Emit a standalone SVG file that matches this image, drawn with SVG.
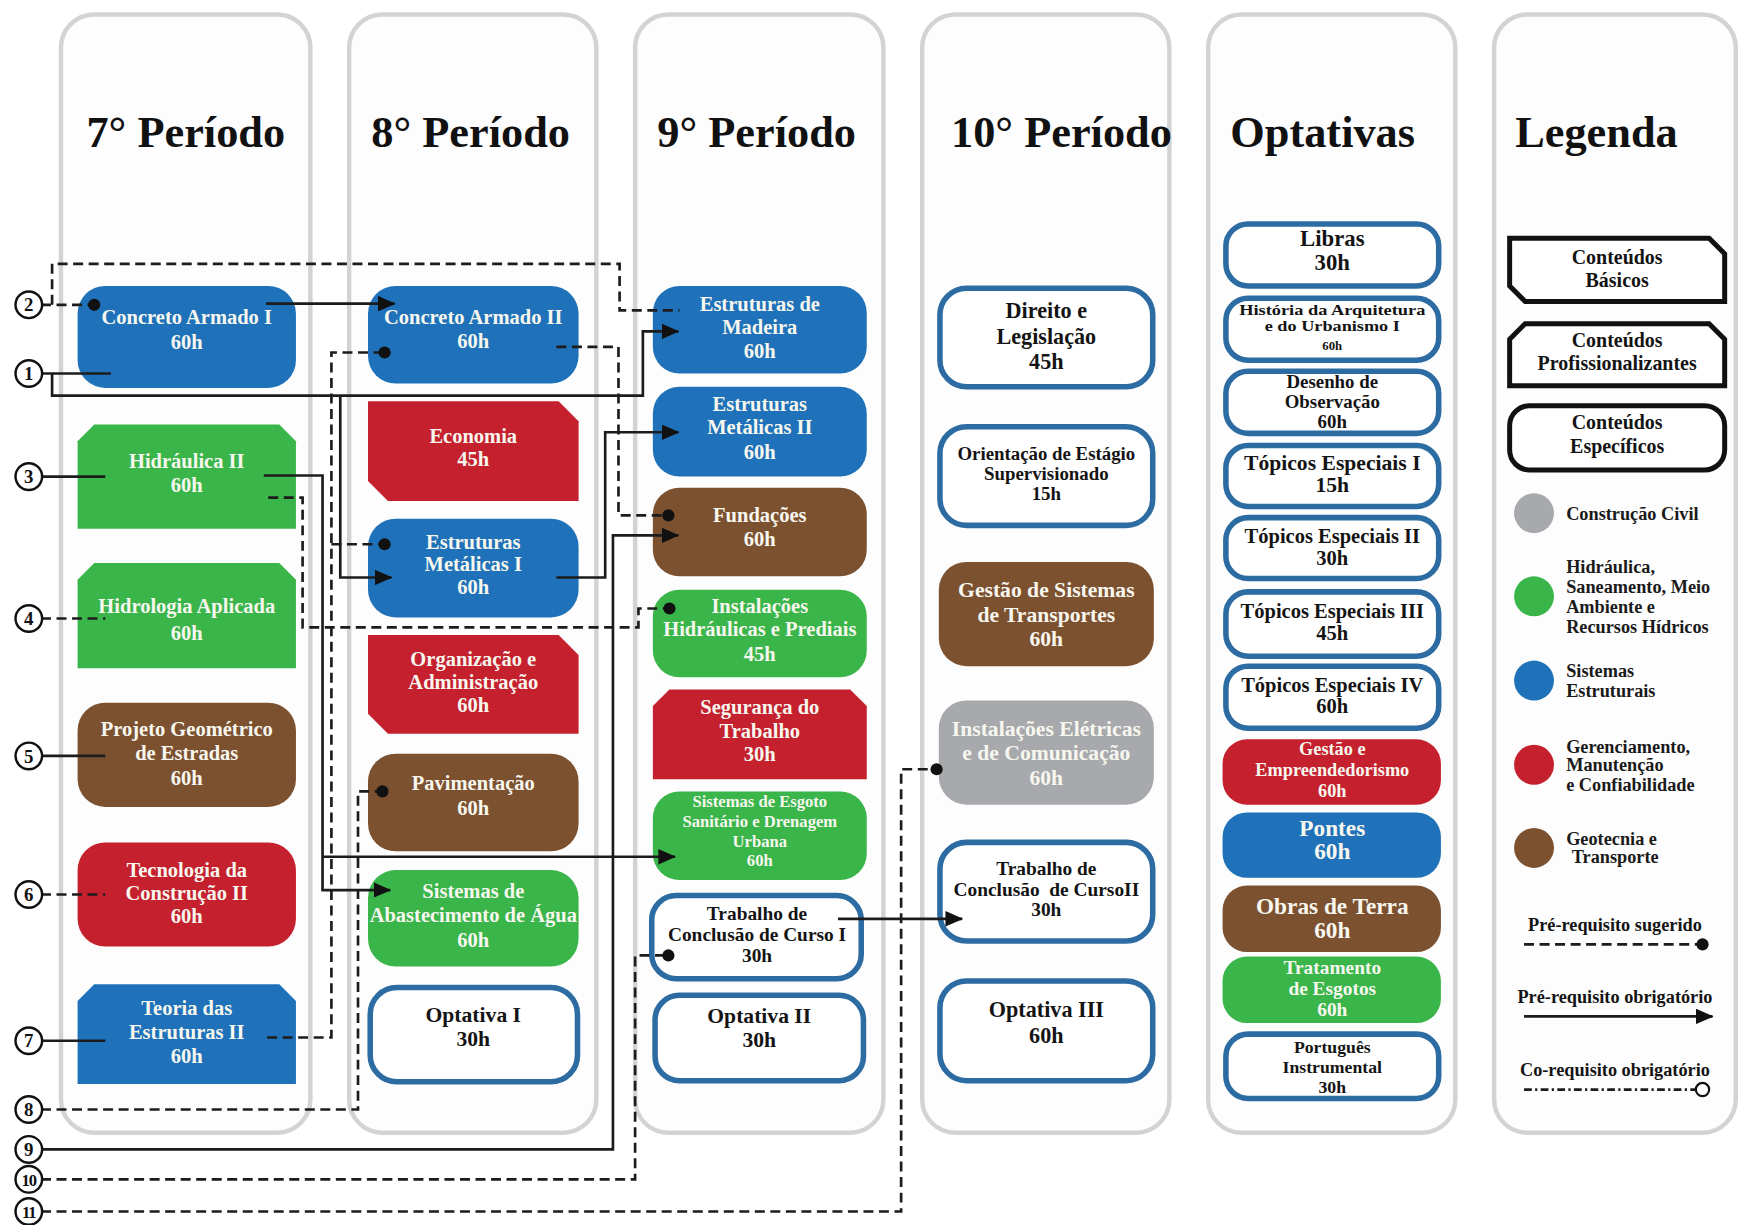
<svg xmlns="http://www.w3.org/2000/svg" width="1738" height="1225" viewBox="0 0 1738 1225">
<defs>
<style>
.col{fill:#fdfdfd;stroke:#d3d3d3;stroke-width:4}
.title{font-family:"Liberation Serif","Times New Roman",serif;font-weight:bold;font-size:40px;fill:#111}
.blue{fill:#1f72b9}
.green{fill:#3ab54a}
.brown{fill:#7c5130}
.red{fill:#c5202e}
.gray{fill:#a7a9ac}
.white{fill:#fff;stroke:#2d6ca2;stroke-width:5}
.t{font-family:"Liberation Serif","Times New Roman",serif;font-weight:bold;font-size:18.5px;text-anchor:middle}
.w{fill:#f7f7ef}
.k{fill:#141414}
.ln{fill:none;stroke:#1c1c1c;stroke-width:2.4}
.d{stroke-dasharray:9 5}
.num{fill:#fff;stroke:#111;stroke-width:2.2}
.nt{font-family:"Liberation Serif","Times New Roman",serif;font-weight:bold;font-size:17px;text-anchor:middle;fill:#111}
.lg{fill:#fff;stroke:#111;stroke-width:4.5}
.lt{font-family:"Liberation Serif","Times New Roman",serif;font-weight:bold;font-size:16.5px;fill:#1a1a1a}
</style>
<marker id="arrow" viewBox="0 0 16 14" refX="15" refY="7" markerWidth="16" markerHeight="14" markerUnits="userSpaceOnUse" orient="auto">
<path d="M0,0 L16,7 L0,14 Z" fill="#111"/>
</marker>
<marker id="dot" viewBox="-6 -6 12 12" refX="0" refY="0" markerWidth="12" markerHeight="12" markerUnits="userSpaceOnUse">
<circle r="5.5" fill="#111"/>
</marker>
</defs>
<rect width="1738" height="1225" fill="#fff"/>
<g transform="scale(1.1084)">

<g id="columns">
<rect class="col" x="55" y="13" width="225" height="1009" rx="30"/>
<rect class="col" x="315" y="13" width="223" height="1009" rx="30"/>
<rect class="col" x="573" y="13" width="224" height="1009" rx="30"/>
<rect class="col" x="832" y="13" width="223" height="1009" rx="30"/>
<rect class="col" x="1090" y="13" width="223" height="1009" rx="30"/>
<rect class="col" x="1348" y="13" width="218" height="1009" rx="30"/>
<text class="title" x="78" y="133">7° Período</text>
<text class="title" x="335" y="133">8° Período</text>
<text class="title" x="593" y="133">9° Período</text>
<text class="title" x="858" y="133">10° Período</text>
<text class="title" x="1110" y="133">Optativas</text>
<text class="title" x="1367" y="133">Legenda</text>
</g>

<!-- 7º período -->
<g id="n-concreto-armado-1"><rect class="blue" x="70" y="258" width="197" height="92" rx="25"/><text class="t w" x="168.5" y="292">Concreto Armado I</text><text class="t w" x="168.5" y="315">60h</text></g>
<g id="n-hidraulica-2"><path class="green" d="M70,398 L85,383 L252,383 L267,398 L267,477 L70,477 Z"/><text class="t w" x="168.5" y="422">Hidráulica II</text><text class="t w" x="168.5" y="444">60h</text></g>
<g id="n-hidrologia"><path class="green" d="M70,523 L85,508 L252,508 L267,523 L267,603 L70,603 Z"/><text class="t w" x="168.5" y="553">Hidrologia Aplicada</text><text class="t w" x="168.5" y="577">60h</text></g>
<g id="n-projeto-geometrico"><rect class="brown" x="70" y="634" width="197" height="94" rx="25"/><text class="t w" x="168.5" y="664">Projeto Geométrico</text><text class="t w" x="168.5" y="686">de Estradas</text><text class="t w" x="168.5" y="708">60h</text></g>
<g id="n-tecnologia-construcao-2"><rect class="red" x="70" y="760" width="197" height="94" rx="25"/><text class="t w" x="168.5" y="791">Tecnologia da</text><text class="t w" x="168.5" y="812">Construção II</text><text class="t w" x="168.5" y="833">60h</text></g>
<g id="n-teoria-estruturas-2"><path class="blue" d="M70,903 L85,888 L252,888 L267,903 L267,978 L70,978 Z"/><text class="t w" x="168.5" y="916">Teoria das</text><text class="t w" x="168.5" y="937">Estruturas II</text><text class="t w" x="168.5" y="959">60h</text></g>

<!-- 8º período -->
<g id="n-concreto-armado-2"><rect class="blue" x="332" y="258" width="190" height="88" rx="25"/><text class="t w" x="427" y="292">Concreto Armado II</text><text class="t w" x="427" y="314">60h</text></g>
<g id="n-economia"><path class="red" d="M332,362 L504,362 L522,380 L522,452 L350,452 L332,434 Z"/><text class="t w" x="427" y="400">Economia</text><text class="t w" x="427" y="420">45h</text></g>
<g id="n-estruturas-metalicas-1"><rect class="blue" x="332" y="468" width="190" height="89" rx="25"/><text class="t w" x="427" y="495">Estruturas</text><text class="t w" x="427" y="515">Metálicas I</text><text class="t w" x="427" y="536">60h</text></g>
<g id="n-organizacao"><path class="red" d="M332,573 L504,573 L522,591 L522,662 L350,662 L332,644 Z"/><text class="t w" x="427" y="601">Organização e</text><text class="t w" x="427" y="622">Administração</text><text class="t w" x="427" y="642">60h</text></g>
<g id="n-pavimentacao"><rect class="brown" x="332" y="680" width="190" height="88" rx="25"/><text class="t w" x="427" y="713">Pavimentação</text><text class="t w" x="427" y="735">60h</text></g>
<g id="n-abastecimento-agua"><rect class="green" x="332" y="785" width="190" height="87" rx="25"/><text class="t w" x="427" y="810">Sistemas de</text><text class="t w" x="427" y="832">Abastecimento de Água</text><text class="t w" x="427" y="854">60h</text></g>
<g id="n-optativa-1"><rect class="white" x="334" y="891" width="187" height="85" rx="24"/><text class="t k" x="427" y="922" style="font-size:19.5px">Optativa I</text><text class="t k" x="427" y="944" style="font-size:19.5px">30h</text></g>

<!-- 9º período -->
<g id="n-estruturas-madeira"><rect class="blue" x="589" y="258" width="193" height="79" rx="24"/><text class="t w" x="685.5" y="281">Estruturas de</text><text class="t w" x="685.5" y="301">Madeira</text><text class="t w" x="685.5" y="323">60h</text></g>
<g id="n-estruturas-metalicas-2"><rect class="blue" x="589" y="349" width="193" height="81" rx="24"/><text class="t w" x="685.5" y="371">Estruturas</text><text class="t w" x="685.5" y="392">Metálicas II</text><text class="t w" x="685.5" y="414">60h</text></g>
<g id="n-fundacoes"><rect class="brown" x="589" y="440" width="193" height="80" rx="24"/><text class="t w" x="685.5" y="471">Fundações</text><text class="t w" x="685.5" y="493">60h</text></g>
<g id="n-instalacoes-hidraulicas"><rect class="green" x="589" y="532" width="193" height="79" rx="24"/><text class="t w" x="685.5" y="553">Instalações</text><text class="t w" x="685.5" y="574">Hidráulicas e Prediais</text><text class="t w" x="685.5" y="596">45h</text></g>
<g id="n-seguranca-trabalho"><path class="red" d="M589,637 L604,622 L767,622 L782,637 L782,703 L589,703 Z"/><text class="t w" x="685.5" y="644">Segurança do</text><text class="t w" x="685.5" y="666">Trabalho</text><text class="t w" x="685.5" y="687">30h</text></g>
<g id="n-esgoto-drenagem"><rect class="green" x="589" y="714" width="193" height="80" rx="24"/><text class="t w" x="685.5" y="728" style="font-size:15px">Sistemas de Esgoto</text><text class="t w" x="685.5" y="746" style="font-size:15px">Sanitário e Drenagem</text><text class="t w" x="685.5" y="764" style="font-size:15px">Urbana</text><text class="t w" x="685.5" y="781" style="font-size:15px">60h</text></g>
<g id="n-tcc-1"><rect class="white" x="588" y="808" width="189" height="75" rx="22"/><text class="t k" x="683" y="830" style="font-size:17.5px">Trabalho de</text><text class="t k" x="683" y="849" style="font-size:17.5px">Conclusão de Curso I</text><text class="t k" x="683" y="868" style="font-size:17.5px">30h</text></g>
<g id="n-optativa-2"><rect class="white" x="591" y="898" width="188" height="77" rx="22"/><text class="t k" x="685" y="923" style="font-size:19.5px">Optativa II</text><text class="t k" x="685" y="945" style="font-size:19.5px">30h</text></g>

<!-- 10º período -->
<g id="n-direito"><rect class="white" x="848" y="260" width="192" height="89" rx="24"/><text class="t k" x="944" y="287" style="font-size:20px">Direito e</text><text class="t k" x="944" y="310" style="font-size:20px">Legislação</text><text class="t k" x="944" y="333" style="font-size:20px">45h</text></g>
<g id="n-estagio"><rect class="white" x="848" y="385" width="192" height="89" rx="24"/><text class="t k" x="944" y="415" style="font-size:17px">Orientação de Estágio</text><text class="t k" x="944" y="433" style="font-size:17px">Supervisionado</text><text class="t k" x="944" y="451" style="font-size:17px">15h</text></g>
<g id="n-gestao-transportes"><rect class="brown" x="847" y="507" width="194" height="94" rx="25"/><text class="t w" x="944" y="539" style="font-size:19.5px">Gestão de Sistemas</text><text class="t w" x="944" y="561" style="font-size:19.5px">de Transportes</text><text class="t w" x="944" y="583" style="font-size:19.5px">60h</text></g>
<g id="n-instalacoes-eletricas"><rect class="gray" x="847" y="632" width="194" height="94" rx="25"/><text class="t w" x="944" y="664" style="font-size:19.5px">Instalações Elétricas</text><text class="t w" x="944" y="686" style="font-size:19.5px">e de Comunicação</text><text class="t w" x="944" y="708" style="font-size:19.5px">60h</text></g>
<g id="n-tcc-2"><rect class="white" x="848" y="760" width="192" height="89" rx="24"/><text class="t k" x="944" y="789" style="font-size:17.5px">Trabalho de</text><text class="t k" x="944" y="808" style="font-size:17.5px;white-space:pre">Conclusão  de CursoII</text><text class="t k" x="944" y="826" style="font-size:17.5px">30h</text></g>
<g id="n-optativa-3"><rect class="white" x="848" y="885" width="192" height="90" rx="24"/><text class="t k" x="944" y="918" style="font-size:20px">Optativa III</text><text class="t k" x="944" y="941" style="font-size:20px">60h</text></g>

<!-- Optativas -->
<g id="n-libras"><rect class="white" x="1106" y="202" width="192" height="56" rx="20"/><text class="t k" x="1202" y="222" style="font-size:20.5px">Libras</text><text class="t k" x="1202" y="244" style="font-size:20.5px">30h</text></g>
<g id="n-historia"><rect class="white" x="1106" y="269" width="192" height="56" rx="20"/><text class="t k" x="1202" y="284" style="font-size:12.5px" textLength="168" lengthAdjust="spacingAndGlyphs">História da Arquitetura</text><text class="t k" x="1202" y="299" style="font-size:12.5px" textLength="122" lengthAdjust="spacingAndGlyphs">e do Urbanismo I</text><text class="t k" x="1202" y="316" style="font-size:11.5px">60h</text></g>
<g id="n-desenho"><rect class="white" x="1106" y="335" width="192" height="56" rx="20"/><text class="t k" x="1202" y="350" style="font-size:17px">Desenho de</text><text class="t k" x="1202" y="368" style="font-size:17px">Observação</text><text class="t k" x="1202" y="386" style="font-size:17px">60h</text></g>
<g id="n-topicos-1"><rect class="white" x="1106" y="402" width="192" height="55" rx="20"/><text class="t k" x="1202" y="424" style="font-size:19.5px">Tópicos Especiais I</text><text class="t k" x="1202" y="444" style="font-size:19.5px">15h</text></g>
<g id="n-topicos-2"><rect class="white" x="1106" y="467" width="192" height="55" rx="20"/><text class="t k" x="1202" y="490" style="font-size:18.5px">Tópicos Especiais II</text><text class="t k" x="1202" y="510" style="font-size:18.5px">30h</text></g>
<g id="n-topicos-3"><rect class="white" x="1106" y="534" width="192" height="58" rx="20"/><text class="t k" x="1202" y="558" style="font-size:18.5px">Tópicos Especiais III</text><text class="t k" x="1202" y="577" style="font-size:18.5px">45h</text></g>
<g id="n-topicos-4"><rect class="white" x="1106" y="601" width="192" height="56" rx="20"/><text class="t k" x="1202" y="624" style="font-size:18.5px">Tópicos Especiais IV</text><text class="t k" x="1202" y="643" style="font-size:18.5px">60h</text></g>
<g id="n-gestao-empreendedorismo"><rect class="red" x="1103" y="667" width="197" height="59" rx="22"/><text class="t w" x="1202" y="681" style="font-size:16.5px">Gestão e</text><text class="t w" x="1202" y="700" style="font-size:16.5px">Empreendedorismo</text><text class="t w" x="1202" y="719" style="font-size:16.5px">60h</text></g>
<g id="n-pontes"><rect class="blue" x="1103" y="733" width="197" height="59" rx="22"/><text class="t w" x="1202" y="754" style="font-size:21px">Pontes</text><text class="t w" x="1202" y="775" style="font-size:21px">60h</text></g>
<g id="n-obras-terra"><rect class="brown" x="1103" y="799" width="197" height="60" rx="22"/><text class="t w" x="1202" y="825" style="font-size:21px">Obras de Terra</text><text class="t w" x="1202" y="846" style="font-size:21px">60h</text></g>
<g id="n-tratamento-esgotos"><rect class="green" x="1103" y="863" width="197" height="60" rx="22"/><text class="t w" x="1202" y="879" style="font-size:17.5px">Tratamento</text><text class="t w" x="1202" y="898" style="font-size:17.5px">de Esgotos</text><text class="t w" x="1202" y="917" style="font-size:17.5px">60h</text></g>
<g id="n-portugues"><rect class="white" x="1106" y="933" width="192" height="58" rx="20"/><text class="t k" x="1202" y="950" style="font-size:16px">Português</text><text class="t k" x="1202" y="968" style="font-size:16px">Instrumental</text><text class="t k" x="1202" y="986" style="font-size:16px">30h</text></g>

<!-- Connectors -->
<g id="connectors">
<path class="ln" d="M37,337 H100"/>
<path class="ln" d="M47,337 V357 H580 V299 H612" marker-end="url(#arrow)"/>
<path class="ln" d="M307,357 V521 H353" marker-end="url(#arrow)"/>
<path class="ln" d="M240,274 H356" marker-end="url(#arrow)"/>
<path class="ln d" d="M37,275 H85" marker-end="url(#dot)"/>
<path class="ln d" d="M47,275 V238 H559 V280 H613"/>
<path class="ln d" d="M502,313 H558 V465 H603" marker-end="url(#dot)"/>
<path class="ln" d="M37,430 H95"/>
<path class="ln" d="M238,429 H291 V803 H352" marker-end="url(#arrow)"/>
<path class="ln" d="M291,773 H609" marker-end="url(#arrow)"/>
<path class="ln d" d="M242,449 H273 V566 H576 V549 H604" marker-end="url(#dot)"/>
<path class="ln d" d="M37,558 H95"/>
<path class="ln" d="M37,682 H95"/>
<path class="ln d" d="M37,807 H95"/>
<path class="ln" d="M37,939 H95"/>
<path class="ln d" d="M241,936 H299 V318 H347" marker-end="url(#dot)"/>
<path class="ln d" d="M299,491 H347" marker-end="url(#dot)"/>
<path class="ln d" d="M37,1001 H323 V714 H345" marker-end="url(#dot)"/>
<path class="ln" d="M502,521 H546 V390 H612" marker-end="url(#arrow)"/>
<path class="ln" d="M37,1037 H553 V483 H612" marker-end="url(#arrow)"/>
<path class="ln d" d="M37,1064 H573 V862 H603" marker-end="url(#dot)"/>
<path class="ln d" d="M37,1093 H813 V694 H845" marker-end="url(#dot)"/>
<path class="ln" d="M756,829 H868" marker-end="url(#arrow)"/>
</g>

<!-- Numbered references -->
<g id="refs">
<g id="ref-1"><circle class="num" cx="26" cy="337" r="12"/><text class="nt" x="26" y="343">1</text></g>
<g id="ref-2"><circle class="num" cx="26" cy="275" r="12"/><text class="nt" x="26" y="281">2</text></g>
<g id="ref-3"><circle class="num" cx="26" cy="430" r="12"/><text class="nt" x="26" y="436">3</text></g>
<g id="ref-4"><circle class="num" cx="26" cy="558" r="12"/><text class="nt" x="26" y="564">4</text></g>
<g id="ref-5"><circle class="num" cx="26" cy="682" r="12"/><text class="nt" x="26" y="688">5</text></g>
<g id="ref-6"><circle class="num" cx="26" cy="807" r="12"/><text class="nt" x="26" y="813">6</text></g>
<g id="ref-7"><circle class="num" cx="26" cy="939" r="12"/><text class="nt" x="26" y="945">7</text></g>
<g id="ref-8"><circle class="num" cx="26" cy="1001" r="12"/><text class="nt" x="26" y="1007">8</text></g>
<g id="ref-9"><circle class="num" cx="26" cy="1037" r="12"/><text class="nt" x="26" y="1043">9</text></g>
<g id="ref-10"><circle class="num" cx="26" cy="1064" r="12"/><text class="nt" x="26" y="1070" style="font-size:15px;letter-spacing:-1px">10</text></g>
<g id="ref-11"><circle class="num" cx="26" cy="1093" r="12"/><text class="nt" x="26" y="1099" style="font-size:15px;letter-spacing:-1px">11</text></g>
</g>

<!-- Legend -->
<g id="legend">
<g id="leg-basicos"><path class="lg" d="M1362,215 L1542,215 L1556,229 L1556,272 L1376,272 L1362,258 Z"/><text class="t k" x="1459" y="238" style="font-size:18px">Conteúdos</text><text class="t k" x="1459" y="259" style="font-size:18px">Básicos</text></g>
<g id="leg-profissionalizantes"><path class="lg" d="M1362,306 L1376,292 L1542,292 L1556,306 L1556,348 L1362,348 Z"/><text class="t k" x="1459" y="313" style="font-size:18px">Conteúdos</text><text class="t k" x="1459" y="334" style="font-size:18px">Profissionalizantes</text></g>
<g id="leg-especificos"><rect class="lg" x="1362" y="366" width="194" height="58" rx="18"/><text class="t k" x="1459" y="387" style="font-size:18px">Conteúdos</text><text class="t k" x="1459" y="409" style="font-size:18px">Específicos</text></g>
<g id="leg-construcao"><circle class="gray" cx="1384" cy="463" r="18"/><text class="lt" x="1413" y="469">Construção Civil</text></g>
<g id="leg-hidraulica"><circle class="green" cx="1384" cy="538" r="18"/><text class="lt" x="1413" y="517">Hidráulica,</text><text class="lt" x="1413" y="535">Saneamento, Meio</text><text class="lt" x="1413" y="553">Ambiente e</text><text class="lt" x="1413" y="571">Recursos Hídricos</text></g>
<g id="leg-estruturais"><circle class="blue" cx="1384" cy="614" r="18"/><text class="lt" x="1413" y="611">Sistemas</text><text class="lt" x="1413" y="629">Estruturais</text></g>
<g id="leg-gerenciamento"><circle class="red" cx="1384" cy="690" r="18"/><text class="lt" x="1413" y="679">Gerenciamento,</text><text class="lt" x="1413" y="696">Manutenção</text><text class="lt" x="1413" y="714">e Confiabilidade</text></g>
<g id="leg-geotecnia"><circle class="brown" cx="1384" cy="765" r="18"/><text class="lt" x="1413" y="762">Geotecnia e</text><text class="lt" x="1418" y="779">Transporte</text></g>
<g id="leg-sugerido"><text class="t k" x="1457" y="840" style="font-size:16.5px">Pré-requisito sugerido</text><path class="ln d" d="M1375,852 H1536" marker-end="url(#dot)"/></g>
<g id="leg-obrigatorio"><text class="t k" x="1457" y="905" style="font-size:16.5px">Pré-requisito obrigatório</text><path class="ln" d="M1375,917 H1545" marker-end="url(#arrow)"/></g>
<g id="leg-corequisito"><text class="t k" x="1457" y="971" style="font-size:16.5px">Co-requisito obrigatório</text><path class="ln" d="M1375,983 H1530" style="stroke-dasharray:7 3 2 3"/><circle cx="1536" cy="983" r="6" fill="#fff" stroke="#111" stroke-width="2"/></g>
</g>

</g>
</svg>
